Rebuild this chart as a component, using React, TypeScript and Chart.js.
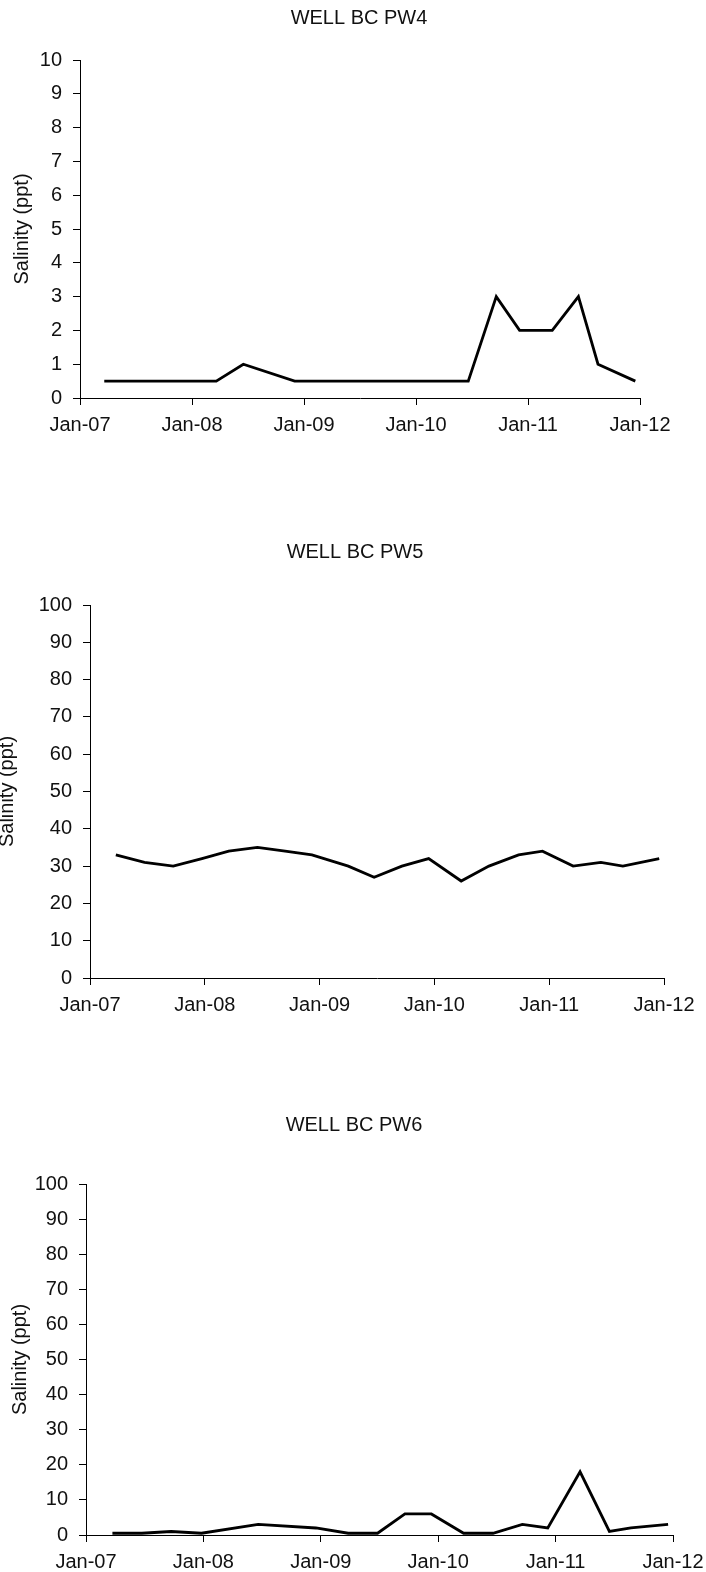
import React, { useEffect, useRef } from 'react';
import { Chart, registerables } from 'chart.js';

Chart.register(...registerables);

// x values are months since Jan 2007
const xTickLabels = ['Jan-07', 'Jan-08', 'Jan-09', 'Jan-10', 'Jan-11', 'Jan-12'];

const pw4Dates = [2.6, 5.7, 8.7, 11.7, 14.6, 17.5, 23.0, 26.9, 29.8, 32.6, 35.4, 38.7, 41.6, 44.6, 47.1, 50.6, 53.4, 55.5, 59.5];
const pw4Values = [0.5, 0.5, 0.5, 0.5, 0.5, 1, 0.5, 0.5, 0.5, 0.5, 0.5, 0.5, 0.5, 3, 2, 2, 3, 1, 0.5];

const pw5Dates = [2.7, 5.7, 8.7, 11.7, 14.5, 17.5, 20.4, 23.2, 27.0, 29.7, 32.6, 35.4, 38.8, 41.7, 44.8, 47.3, 50.5, 53.4, 55.7, 59.5];
const pw5Values = [33, 31, 30, 32, 34, 35, 34, 33, 30, 27, 30, 32, 26, 30, 33, 34, 30, 31, 30, 32];

const pw6Dates = [2.7, 5.7, 8.7, 11.8, 17.6, 23.5, 26.8, 29.8, 32.6, 35.3, 38.6, 41.6, 44.6, 47.2, 50.5, 53.5, 55.7, 59.5];
const pw6Values = [0.5, 0.5, 1, 0.5, 3, 2, 0.5, 0.5, 6, 6, 0.5, 0.5, 3, 2, 18, 1, 2, 3];

const FONT = "'Liberation Sans', Arial, Helvetica, sans-serif";
const TEXT = '#111';

type Props = {
  top: number;
  height: number;
  title: string;
  titleX: number;
  titleY: number;
  dates: number[];
  values: number[];
  yMax: number;
  yStep: number;
  plotTop: number;
  yWidth: number;
  xHeight: number;
  padRight: number;
  yTitlePad: number;
};

function WellChart(p: Props) {
  const ref = useRef<HTMLCanvasElement | null>(null);
  useEffect(() => {
    if (!ref.current) return;
    const titlePlugin = {
      id: 'wellTitle',
      afterDraw(chart: any) {
        const ctx = chart.ctx;
        ctx.save();
        ctx.fillStyle = TEXT;
        ctx.font = `20px ${FONT}`;
        ctx.textAlign = 'center';
        ctx.textBaseline = 'middle';
        ctx.fillText(p.title, p.titleX, p.titleY);
        ctx.restore();
      },
    };
    const chart = new Chart(ref.current, {
      type: 'line',
      data: {
        datasets: [
          {
            data: p.dates.map((d, i) => ({ x: d, y: p.values[i] })),
            borderColor: '#000',
            borderWidth: 2.8,
            pointRadius: 0,
            fill: false,
            tension: 0,
            spanGaps: true,
          },
        ],
      },
      plugins: [titlePlugin],
      options: {
        animation: false,
        responsive: false,
        devicePixelRatio: 1,
        layout: { padding: { top: p.plotTop, left: 0, bottom: 0, right: p.padRight } },
        plugins: {
          legend: { display: false },
          tooltip: { enabled: false },
          title: { display: false },
        },
        scales: {
          x: {
            type: 'linear',
            min: 0,
            max: 60,
            afterFit: (s: any) => {
              s.height = p.xHeight;
              s.paddingLeft = 0;
              s.paddingRight = 0;
            },
            ticks: {
              stepSize: 12,
              autoSkip: false,
              maxRotation: 0,
              padding: 8,
              color: TEXT,
              font: { family: FONT, size: 20 },
              callback: (v: any) => xTickLabels[Math.round(Number(v) / 12)] ?? '',
            },
            grid: { drawOnChartArea: false, color: '#000', tickLength: 7, lineWidth: 1 },
            border: { display: true, color: '#000', width: 1 },
          },
          y: {
            type: 'linear',
            min: 0,
            max: p.yMax,
            afterFit: (s: any) => {
              s.width = p.yWidth;
              s.paddingTop = 0;
              s.paddingBottom = 0;
            },
            ticks: {
              stepSize: p.yStep,
              padding: 11,
              color: TEXT,
              font: { family: FONT, size: 20 },
            },
            grid: { drawOnChartArea: false, color: '#000', tickLength: 7, lineWidth: 1 },
            border: { display: true, color: '#000', width: 1 },
            title: {
              display: true,
              text: 'Salinity (ppt)',
              color: TEXT,
              font: { family: FONT, size: 20 },
              padding: { top: p.yTitlePad, bottom: 0 },
            },
          },
        },
      },
    } as any);
    return () => chart.destroy();
  }, []);
  return (
    <div style={{ position: 'absolute', left: 0, top: p.top, width: 706, height: p.height }}>
      <canvas ref={ref} width={706} height={p.height} style={{ width: 706, height: p.height, display: 'block' }} />
    </div>
  );
}

export default function App() {
  return (
    <div style={{ position: 'absolute', left: 0, top: 0, width: 706, height: 1572, background: '#fff', overflow: 'hidden' }}>
      <WellChart
        top={0}
        height={500}
        title="WELL BC PW4"
        titleX={359}
        titleY={18}
        dates={pw4Dates}
        values={pw4Values}
        yMax={10}
        yStep={1}
        plotTop={60}
        yWidth={80}
        xHeight={102}
        padRight={66}
        yTitlePad={10.5}
      />
      <WellChart
        top={500}
        height={560}
        title="WELL BC PW5"
        titleX={355}
        titleY={52}
        dates={pw5Dates}
        values={pw5Values}
        yMax={100}
        yStep={10}
        plotTop={105}
        yWidth={90}
        xHeight={82}
        padRight={42}
        yTitlePad={-5}
      />
      <WellChart
        top={1060}
        height={512}
        title="WELL BC PW6"
        titleX={354}
        titleY={65}
        dates={pw6Dates}
        values={pw6Values}
        yMax={100}
        yStep={10}
        plotTop={124}
        yWidth={86}
        xHeight={37}
        padRight={33}
        yTitlePad={8}
      />
    </div>
  );
}
